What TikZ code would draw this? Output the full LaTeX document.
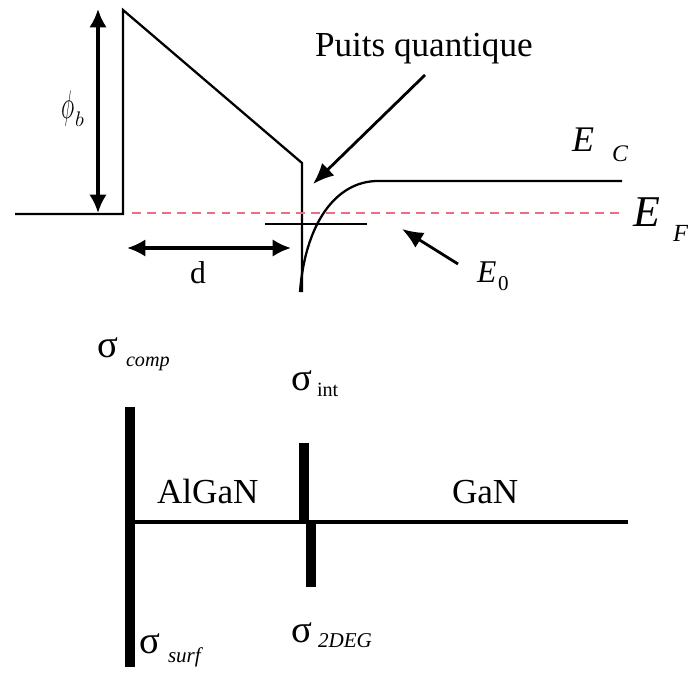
\documentclass[tikz,border=0pt]{standalone}
\usepackage{fontspec}
\setmainfont{Liberation Serif}
\usetikzlibrary{arrows.meta}
\begin{document}
\begin{tikzpicture}[x=0.02cm,y=-0.02cm,
  band/.style={line width=1.3pt,line join=miter},
  dim/.style={line width=1.9pt,{Latex[length=10.5pt,width=10pt]}-{Latex[length=10.5pt,width=10pt]}},
  pointer/.style={line width=1.6pt,-{Latex[length=12pt,width=10pt]}},
  fermi/.style={line width=1.4pt,dash pattern=on 5pt off 3.5pt,color={rgb,255:red,235;green,110;blue,130}},
  lab/.style={inner sep=0pt,outer sep=0pt,anchor=base west},
  charge/.style={line width=5.7pt},
  lay/.style={line width=2.6pt}]
\useasboundingbox (0,0) rectangle (688,675);
% band diagram
\draw[band] (15,214) -- (123,214) -- (123,10) -- (302,163) -- (302,292);
\draw[band] (300,292) .. controls (305,225) and (335,181) .. (378,181) -- (622,181);
\draw[band] (265,224) -- (367,224);
\draw[fermi] (132,213) -- (622,213);
% dimension arrows
\coordinate (phitop) at (98,9);
\coordinate (phibot) at (98,213);
\draw[dim] (phitop) -- (phibot);
\coordinate (dl) at (127,248);
\coordinate (dr) at (291,248);
\draw[dim] (dl) -- (dr);
% labels
\node[lab,font=\fontsize{20}{24}\selectfont] (puits) at (315,57) {Puits quantique};
\coordinate (puitsstart) at (425,75);
\coordinate (puitstip) at (313,184);
\draw[pointer] (puitsstart) -- (puitstip);
\node[lab,font=\fontsize{20.5}{24}\selectfont\itshape] (ec) at (572,152) {E};
\node[lab,font=\fontsize{13.5}{16}\selectfont\itshape] (ecs) at (612,162) {C};
\node[lab,font=\fontsize{25}{30}\selectfont\itshape] (ef) at (633,226) {E};
\node[lab,font=\fontsize{14}{16}\selectfont\itshape] (efs) at (673,241) {F};
\node[lab,font=\fontsize{18}{22}\selectfont\itshape] (e0) at (477,282) {E};
\node[lab,font=\fontsize{12}{14}\selectfont] (e0s) at (498,290) {0};
\coordinate (e0start) at (458,264);
\coordinate (e0tip) at (402,229);
\draw[pointer] (e0start) -- (e0tip);
\node[lab,font=\fontsize{18}{22}\selectfont] (dlab) at (190,283) {d};
\node[lab,font=\fontsize{20}{24}\selectfont] (phi) at (61,119) {\scalebox{0.62}[1.1]{$\phi$}};
\node[lab,font=\fontsize{13}{15}\selectfont] (phis) at (75,127) {$b$};
% charge diagram
\coordinate (barT) at (130,407);
\coordinate (barB) at (130,667);
\draw[charge] (barT) -- (barB);
\coordinate (layL) at (130,522);
\coordinate (layR) at (628,522);
\draw[lay] (layL) -- (layR);
\coordinate (intT) at (303.5,443);
\coordinate (intB) at (303.5,522);
\draw[charge] (intT) -- (intB);
\coordinate (degT) at (310.5,520);
\coordinate (degB) at (310.5,587);
\draw[charge] (degT) -- (degB);
\node[lab,font=\fontsize{20}{24}\selectfont] (algan) at (157,503) {AlGaN};
\node[lab,font=\fontsize{20}{24}\selectfont] (gan) at (452,503) {GaN};
\node[lab,font=\fontsize{22}{26}\selectfont] (scomp) at (97,357) {σ};
\node[lab,font=\fontsize{11.5}{14}\selectfont\itshape] (scomps) at (126,366) {comp};
\node[lab,font=\fontsize{22}{26}\selectfont] (sint) at (291,390) {σ};
\node[lab,font=\fontsize{11.5}{14}\selectfont] (sints) at (317,396) {int};
\node[lab,font=\fontsize{22}{26}\selectfont] (s2deg) at (291,642) {σ};
\node[lab,font=\fontsize{12}{14}\selectfont\itshape] (s2degs) at (318,647) {2DEG};
\node[lab,font=\fontsize{22}{26}\selectfont] (ssurf) at (139,653) {σ};
\node[lab,font=\fontsize{12}{14}\selectfont\itshape] (ssurfs) at (168,662) {surf};
\end{tikzpicture}
\end{document}
